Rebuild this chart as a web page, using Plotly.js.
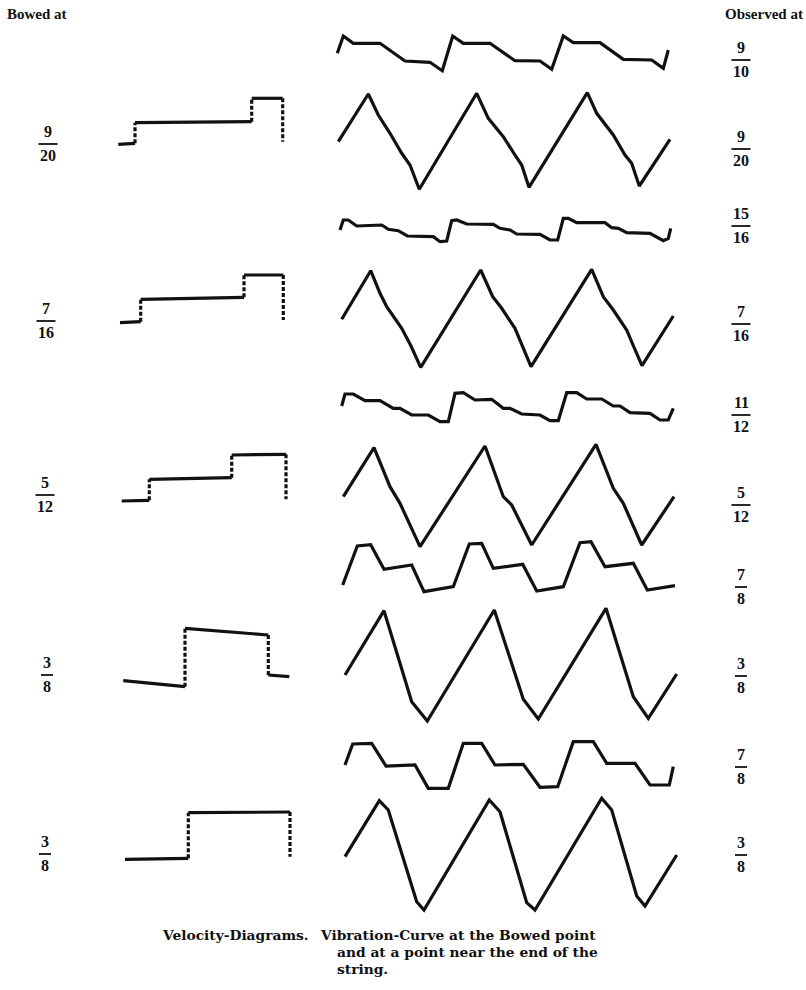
<!DOCTYPE html>
<html><head><meta charset="utf-8">
<script src="https://cdn.plot.ly/plotly-3.0.1.min.js"></script>
<style>html,body{margin:0;padding:0;background:#fff;}#plot{width:806px;height:990px;}</style>
</head><body><div id="plot"></div>
<script>
// ---- Vibration curves (observed point curves and bowed point curves), page coordinates ----
var obs910_x = [337.3,343.3,353.3,380,405,430,442.3,452.7,463.3,490,515,540,551.7,563.3,573.3,600,623.3,651.7,663.3,668.3];
var obs910_y = [53.3,36,43.3,43.3,61,62.3,70.7,36,43.3,43.3,60.7,61,69.3,36,42.7,42.7,59.3,60,68.3,50];
var bow920_x = [338.3,368.3,378.3,390,401.7,410,419.3,476.7,488.3,503.3,515,521.7,529,587.3,596.7,613.3,625,631.7,639.3,670];
var bow920_y = [141.7,94,115,133.3,153.3,165,189.3,93.3,118.3,136.7,155,165,187.3,92.7,113.3,135,155,163.3,186,139.3];
var obs1516_x = [340,343.3,348.3,356.7,381.7,388.3,398.3,407.3,433.3,440,446.7,451.7,456.7,466.7,493.3,500,510,516.7,540,550,557.7,563.3,568.3,576.7,605,611.7,618.3,626.7,650,663.3,668.3,670.7];
var obs1516_y = [230,220,220,226,225,229.3,230.7,236,236.7,241.7,241,220.7,220,224,224.3,228.3,230,234,234.3,240,240,218.3,218.3,222.7,222.7,227.7,228.3,232.7,233.3,240.7,238.3,228.3];
var bow716_x = [341.7,370.7,380,386.7,401.7,411,420.7,480.7,492.7,501.7,515,522,531,591.7,603.3,613.3,626.7,633,642,673.3];
var bow716_y = [319.3,270.7,293.3,306.7,328.3,346,367.3,270,296.7,308.3,328.3,345,366.7,269.3,296.7,310,330,345,365.7,316];
var obs1112_x = [341.7,345,353.3,365,380,393.3,400,411.7,428.3,440,448.3,455,463.3,475,491.7,503.3,510,521.7,540,550,558.3,566.7,576.7,586.7,601.7,613.3,620,630,650,660,668.3,673.3];
var obs1112_y = [406,394,394,400.7,400.7,408.3,408.3,415,415,421.7,421.7,393.3,392.7,400,399.3,408.3,408.3,414,415,420.7,420.7,392.7,392.7,399,399,406,406,412.7,413.3,420,420,408.3];
var bow512_x = [343.3,374,390,400,420,485,503.3,511.7,531.7,596,613.3,623.3,641.7,674];
var bow512_y = [496.7,447.7,486.7,503.3,546.7,446,496.7,505,545,444.3,488.3,503.3,545,496.7];
var obs78a_x = [342.7,357.3,370.7,384,411.7,424,453.3,469.3,481.7,493.3,522.7,536.7,563.3,580,591,605,633.3,647.3,675];
var obs78a_y = [585,546,544.7,569.3,565,591.7,586.7,544,543.3,568.3,564.3,591,586.7,542.7,541.7,566.7,563.3,590,585.7];
var bow38a_x = [345,384,411.7,427.3,494.3,523.3,538.3,606,633.3,648.3,676.7];
var bow38a_y = [675,610.7,701.7,721,610,699.3,719,608.3,696.7,718.3,674];
var obs78b_x = [345,352.7,371.7,386,415,428.3,448.3,463.3,481.7,495,523.3,540,557.7,573.3,593.3,606.7,635,650,669.3,673.3];
var obs78b_y = [765,744,743.3,766,765,788.3,788.3,743.3,743.3,765,764.3,787.3,786.7,741.7,741.7,763.3,763.3,785,785,766.7];
var bow38b_x = [345,379.3,388.3,416.7,424,489.3,500,526.7,535,601.7,611.7,636.7,645,676.7];
var bow38b_y = [856.7,800.7,810,901.7,910,800,811.7,902.7,910,798.3,810,896,906,855];

// ---- Velocity diagrams ----
var vel920_x = [118.3,135,135,251.7,251.7,282.7,282.7];
var vel920_y = [144.3,143.3,122.7,121.7,98.3,98.3,141.7];
var vel716_x = [120,140.7,140.7,244,244,283.3,283.3];
var vel716_y = [322.7,321.7,299.3,297.3,275,275,320];
var vel512_x = [121.7,149.3,149.3,231.7,231.7,286,286];
var vel512_y = [501,500.3,479.3,477.7,455,454.3,499.3];
var vel38a_x = [123.3,185,185,268.3,268.3,289.3];
var vel38a_y = [680.7,686.7,628.3,635,675,676.7];
var vel38b_x = [125,188.3,188.3,290,290];
var vel38b_y = [859.3,858.3,812.7,812,856.7];

// ---- Fraction labels ----
var bowedNum = ["9","7","5","3","3"];
var bowedDen = ["20","16","12","8","8"];
var obsNum = ["9","9","15","7","11","5","7","3","7","3"];
var obsDen = ["10","20","16","16","12","12","8","8","8","8"];

// layout positions (not data)
var bowedPos = [[48,144],[46,321],[45,495],[47,675],[45,854]];
var obsPos = [[741,60],[741,149],[741,226],[741,324],[741,415],[741,505],[741,587],[741,676],[741,767],[741,855]];

var LW = 3.2;
var traces = [];
function addCurve(x, y) {
  traces.push({x:x, y:y, type:'scatter', mode:'lines', hoverinfo:'skip',
    line:{color:'#111', width:LW, shape:'linear'}});
}
[[obs910_x,obs910_y],[bow920_x,bow920_y],[obs1516_x,obs1516_y],[bow716_x,bow716_y],
 [obs1112_x,obs1112_y],[bow512_x,bow512_y],[obs78a_x,obs78a_y],[bow38a_x,bow38a_y],
 [obs78b_x,obs78b_y],[bow38b_x,bow38b_y]].forEach(function(c){ addCurve(c[0], c[1]); });

function addVelocity(x, y) {
  var sx=[], sy=[], dx=[], dy=[];
  for (var i=0;i<x.length-1;i++){
    if (Math.abs(x[i]-x[i+1])<0.01) { dx.push(x[i],x[i+1],null); dy.push(y[i],y[i+1],null); }
    else { sx.push(x[i],x[i+1],null); sy.push(y[i],y[i+1],null); }
  }
  traces.push({x:sx, y:sy, type:'scatter', mode:'lines', hoverinfo:'skip', line:{color:'#111', width:LW}});
  traces.push({x:dx, y:dy, type:'scatter', mode:'lines', hoverinfo:'skip', line:{color:'#111', width:LW, dash:'4px,2px'}});
}
[[vel920_x,vel920_y],[vel716_x,vel716_y],[vel512_x,vel512_y],[vel38a_x,vel38a_y],[vel38b_x,vel38b_y]]
  .forEach(function(c){ addVelocity(c[0], c[1]); });

var annotations = [];
var shapes = [];
var fracFont = {family:'Liberation Serif, serif', size:16, color:'#111'};
function addFrac(num, den, pos) {
  annotations.push({x:pos[0], y:pos[1]-2, xref:'x', yref:'y', text:'<b>'+num+'</b>', showarrow:false,
    xanchor:'center', yanchor:'bottom', font:fracFont});
  annotations.push({x:pos[0], y:pos[1]+1, xref:'x', yref:'y', text:'<b>'+den+'</b>', showarrow:false,
    xanchor:'center', yanchor:'top', font:fracFont});
  var hw = den.length > 1 ? 9.5 : 6;
  shapes.push({type:'line', xref:'x', yref:'y', x0:pos[0]-hw, x1:pos[0]+hw, y0:pos[1], y1:pos[1],
    line:{color:'#111', width:1.8}});
}
for (var i=0;i<bowedNum.length;i++) addFrac(bowedNum[i], bowedDen[i], bowedPos[i]);
for (var j=0;j<obsNum.length;j++) addFrac(obsNum[j], obsDen[j], obsPos[j]);

var headFont = {family:'Liberation Serif, serif', size:15, color:'#111'};
annotations.push({x:5, y:14, xref:'x', yref:'y', text:'<b>Bowed at</b>', showarrow:false, xanchor:'left', yanchor:'middle', font:headFont});
annotations.push({x:805, y:14, xref:'x', yref:'y', text:'<b>Observed at</b>', showarrow:false, xanchor:'right', yanchor:'middle', font:headFont});

var capFont = {family:'DejaVu Serif, serif', size:13.8, color:'#111'};
annotations.push({x:160, y:935, xref:'x', yref:'y', text:'<b>Velocity-Diagrams.</b>', showarrow:false, xanchor:'left', yanchor:'middle', font:capFont});
annotations.push({x:318, y:935, xref:'x', yref:'y', text:'<b>Vibration-Curve at the Bowed point</b>', showarrow:false, xanchor:'left', yanchor:'middle', font:capFont});
annotations.push({x:335, y:952, xref:'x', yref:'y', text:'<b>and at a point near the end of the</b>', showarrow:false, xanchor:'left', yanchor:'middle', font:capFont});
annotations.push({x:335, y:969, xref:'x', yref:'y', text:'<b>string.</b>', showarrow:false, xanchor:'left', yanchor:'middle', font:capFont});

var layout = {
  width:806, height:990, margin:{l:0,r:0,t:0,b:0},
  paper_bgcolor:'#fff', plot_bgcolor:'#fff', showlegend:false,
  xaxis:{range:[0,806], visible:false, fixedrange:true},
  yaxis:{range:[990,0], visible:false, fixedrange:true},
  annotations:annotations, shapes:shapes
};
Plotly.newPlot('plot', traces, layout, {staticPlot:true, displayModeBar:false});
</script></body></html>
